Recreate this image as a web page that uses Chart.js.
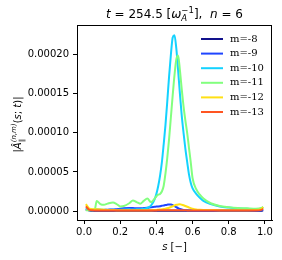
<!DOCTYPE html>
<html>
<head>
<meta charset="utf-8">
<script src="https://cdn.jsdelivr.net/npm/chart.js@4"></script>
<style>
  html, body { margin: 0; padding: 0; background: #fff; }
  canvas { display: block; }
</style>
</head>
<body>
<canvas id="modeChart" width="282" height="260"></canvas>
<script>
// radial coordinate s, shared by all modes
const sGrid = [0.01, 0.03, 0.05, 0.06, 0.07, 0.09, 0.11, 0.13, 0.16, 0.18,
  0.20, 0.22, 0.25, 0.27, 0.29, 0.31, 0.33, 0.35, 0.37, 0.39,
  0.40, 0.41, 0.42, 0.43, 0.44, 0.45, 0.46, 0.47, 0.48, 0.49,
  0.50, 0.51, 0.52, 0.53, 0.54, 0.55, 0.56, 0.57, 0.58, 0.59,
  0.60, 0.62, 0.64, 0.66, 0.70, 0.75, 0.80, 0.85, 0.90, 0.95,
  0.98, 0.99];

const modeLabels = ["m=-8", "m=-9", "m=-10", "m=-11", "m=-12", "m=-13"];

const m8 = [2e-6, 0.6e-6, 0.4e-6, 0.4e-6, 0.4e-6, 0.4e-6, 0.4e-6, 0.4e-6, 0.4e-6, 0.4e-6,
  0.4e-6, 0.4e-6, 0.4e-6, 0.4e-6, 0.4e-6, 0.4e-6, 0.4e-6, 0.4e-6, 0.4e-6, 0.4e-6,
  0.4e-6, 0.4e-6, 0.4e-6, 0.4e-6, 0.4e-6, 0.4e-6, 0.4e-6, 0.4e-6, 0.4e-6, 0.4e-6,
  0.4e-6, 0.4e-6, 0.4e-6, 0.4e-6, 0.4e-6, 0.4e-6, 0.4e-6, 0.4e-6, 0.4e-6, 0.4e-6,
  0.4e-6, 0.4e-6, 0.4e-6, 0.4e-6, 0.4e-6, 0.4e-6, 0.4e-6, 0.4e-6, 0.4e-6, 0.4e-6,
  0.5e-6, 1e-6];

const m9 = [3e-6, 1.5e-6, 1.2e-6, 1.2e-6, 1.2e-6, 1.3e-6, 1.5e-6, 1.8e-6, 2e-6, 2.5e-6,
  3e-6, 3.5e-6, 3.8e-6, 3.8e-6, 3.5e-6, 3.5e-6, 3.8e-6, 4.2e-6, 5e-6, 5.5e-6,
  5.8e-6, 6e-6, 6.3e-6, 6.8e-6, 7.2e-6, 7.8e-6, 8.2e-6, 8.5e-6, 8.3e-6, 7.5e-6,
  6.2e-6, 5e-6, 3.8e-6, 2.8e-6, 2e-6, 1.5e-6, 1.2e-6, 1e-6, 0.9e-6, 0.9e-6,
  0.8e-6, 0.8e-6, 0.8e-6, 0.8e-6, 0.8e-6, 0.8e-6, 0.8e-6, 0.8e-6, 0.8e-6, 0.8e-6,
  1e-6, 1.5e-6];

const m10 = [4e-6, 2e-6, 1.8e-6, 2e-6, 2.2e-6, 2e-6, 1.6e-6, 1.5e-6, 1.8e-6, 1.5e-6,
  1.8e-6, 2e-6, 2.2e-6, 2e-6, 2.3e-6, 2.5e-6, 3e-6, 4e-6, 7e-6, 15e-6,
  22e-6, 32e-6, 45e-6, 62e-6, 85e-6, 110e-6, 140e-6, 172e-6, 200e-6, 222e-6,
  225e-6, 208e-6, 180e-6, 150e-6, 122e-6, 100e-6, 80e-6, 63e-6, 47e-6, 36e-6,
  29e-6, 22e-6, 17e-6, 13e-6, 9e-6, 6e-6, 4.5e-6, 3.5e-6, 3e-6, 2.5e-6,
  3e-6, 5e-6];

const m11 = [1e-6, 1e-6, 1.2e-6, 2.5e-6, 13e-6, 9e-6, 8e-6, 9.5e-6, 11e-6, 9e-6,
  6e-6, 6.5e-6, 10e-6, 13.5e-6, 11.5e-6, 9.5e-6, 13e-6, 16e-6, 11.5e-6, 16e-6,
  19e-6, 21e-6, 22e-6, 25e-6, 32e-6, 48e-6, 68e-6, 92e-6, 120e-6, 148e-6,
  174e-6, 194e-6, 199e-6, 180e-6, 156e-6, 134e-6, 116e-6, 100e-6, 81e-6, 62e-6,
  42e-6, 28e-6, 21e-6, 16e-6, 10e-6, 6.5e-6, 5e-6, 4e-6, 3.5e-6, 3e-6,
  4e-6, 5.5e-6];

const m12 = [9e-6, 3e-6, 2.5e-6, 2.5e-6, 2.5e-6, 2e-6, 1.8e-6, 1.5e-6, 1.3e-6, 1.2e-6,
  1.2e-6, 1.2e-6, 1.2e-6, 1.2e-6, 1.2e-6, 1.2e-6, 1.2e-6, 1.2e-6, 1.2e-6, 1.3e-6,
  1.5e-6, 1.8e-6, 2e-6, 2.3e-6, 2.6e-6, 3e-6, 3.6e-6, 4.3e-6, 5.2e-6, 6.2e-6,
  7.2e-6, 8e-6, 8.5e-6, 8.6e-6, 8.2e-6, 7.5e-6, 6.5e-6, 5.5e-6, 4.6e-6, 3.8e-6,
  3e-6, 2e-6, 1.6e-6, 1.4e-6, 1.3e-6, 1.2e-6, 1.2e-6, 1.2e-6, 1.2e-6, 1.3e-6,
  2.5e-6, 5e-6];

const m13 = [6e-6, 1.5e-6, 1e-6, 0.8e-6, 0.8e-6, 0.8e-6, 0.8e-6, 0.8e-6, 0.8e-6, 0.8e-6,
  0.8e-6, 0.8e-6, 0.8e-6, 0.8e-6, 0.8e-6, 0.8e-6, 0.8e-6, 0.8e-6, 0.8e-6, 0.9e-6,
  0.9e-6, 1e-6, 1e-6, 1e-6, 1.1e-6, 1.1e-6, 1.2e-6, 1.2e-6, 1.2e-6, 1.2e-6,
  1.2e-6, 1.2e-6, 1.2e-6, 1.1e-6, 1.1e-6, 1e-6, 1e-6, 0.9e-6, 0.9e-6, 0.8e-6,
  0.8e-6, 0.8e-6, 0.8e-6, 0.8e-6, 0.8e-6, 0.8e-6, 0.8e-6, 0.8e-6, 0.8e-6, 0.8e-6,
  1.5e-6, 3e-6];

const xTicks = [0.0, 0.2, 0.4, 0.6, 0.8, 1.0];
const yTicks = [0, 0.00005, 0.00010, 0.00015, 0.00020];

const modeColors = ["#12128c", "#1f45ff", "#14d2ff", "#82ff7e", "#ffe014", "#ff5522"];

const SANS = "'DejaVu Sans', sans-serif";
const SERIF = "'DejaVu Serif', serif";

// draws a run of text pieces (for the math-like labels)
function drawRich(ctx, parts, x, y, align) {
    let w = 0;
    parts.forEach(p => {
        ctx.font = p.f;
        if (!p.stack) w += ctx.measureText(p.t).width;
    });
    let cx = align === "center" ? x - w / 2 : x;
    parts.forEach(p => {
        ctx.font = p.f;
        ctx.fillText(p.t, cx, y + (p.dy || 0));
        if (!p.stack) cx += ctx.measureText(p.t).width;
    });
}

const labelsPlugin = {
    id: "labels",
    afterDraw(chart) {
        const { ctx, chartArea } = chart;
        ctx.save();

        // frame
        ctx.strokeStyle = "#000";
        ctx.lineWidth = 1;
        ctx.strokeRect(chartArea.left + 0.5, chartArea.top + 0.5,
            chartArea.right - chartArea.left - 1, chartArea.bottom - chartArea.top);

        ctx.fillStyle = "#000";
        ctx.textBaseline = "alphabetic";
        ctx.textAlign = "left";

        // title
        const mid = (chartArea.left + chartArea.right) / 2;
        drawRich(ctx, [
            { t: "t", f: `italic 12px ${SANS}` },
            { t: " = 254.5 [", f: `12px ${SANS}` },
            { t: "ω", f: `italic 12px ${SANS}` },
            { t: "A", f: `italic 8.5px ${SANS}`, dy: 3, stack: true },
            { t: "−1", f: `8.5px ${SANS}`, dy: -5 },
            { t: "],  ", f: `12px ${SANS}` },
            { t: "n", f: `italic 12px ${SANS}` },
            { t: " = 6", f: `12px ${SANS}` }
        ], mid, 18, "center");

        // x label
        drawRich(ctx, [
            { t: "s", f: `italic 10px ${SANS}` },
            { t: " [−]", f: `10px ${SANS}` }
        ], mid, 250, "center");

        // y label
        ctx.save();
        ctx.translate(21, (chartArea.top + chartArea.bottom) / 2 + 2);
        ctx.rotate(-Math.PI / 2);
        drawRich(ctx, [
            { t: "|", f: `10px ${SANS}` },
            { t: "Â", f: `italic 10px ${SANS}` },
            { t: "∥", f: `7px ${SANS}`, dy: 2.5, stack: true },
            { t: "(n,m)", f: `italic 7px ${SANS}`, dy: -5 },
            { t: "(", f: `10px ${SANS}` },
            { t: "s", f: `italic 10px ${SANS}` },
            { t: "; ", f: `10px ${SANS}` },
            { t: "t", f: `italic 10px ${SANS}` },
            { t: ")|", f: `10px ${SANS}` }
        ], 0, 0, "center");
        ctx.restore();

        // legend
        ctx.font = `10px ${SERIF}`;
        ctx.textBaseline = "middle";
        chart.data.datasets.forEach((ds, i) => {
            const y = 39 + i * 14.6;
            ctx.strokeStyle = ds.borderColor;
            ctx.lineWidth = 2;
            ctx.beginPath();
            ctx.moveTo(201, y);
            ctx.lineTo(223, y);
            ctx.stroke();
            ctx.fillStyle = "#000";
            ctx.fillText(ds.label, 230, y);
        });

        ctx.restore();
    }
};

const series = [m8, m9, m10, m11, m12, m13];

new Chart(document.getElementById("modeChart"), {
    type: "line",
    data: {
        datasets: series.map((vals, i) => ({
            label: modeLabels[i],
            data: vals.map((v, k) => ({ x: sGrid[k], y: v })),
            borderColor: modeColors[i],
            borderWidth: 2,
            pointRadius: 0,
            cubicInterpolationMode: "monotone",
            order: series.length - i
        }))
    },
    options: {
        responsive: false,
        devicePixelRatio: 1,
        animation: false,
        layout: { padding: { left: 0, right: 10, top: 25, bottom: 0 } },
        plugins: {
            legend: { display: false },
            tooltip: { enabled: false }
        },
        scales: {
            x: {
                type: "linear",
                min: -0.039,
                max: 1.039,
                afterFit: scale => { scale.height = 40; },
                afterBuildTicks: scale => {
                    scale.ticks = xTicks.map(v => ({ value: v }));
                },
                ticks: {
                    color: "#000",
                    font: { family: SANS, size: 10 },
                    padding: 2,
                    maxRotation: 0,
                    callback: v => v.toFixed(1)
                },
                grid: { drawOnChartArea: false, drawTicks: true, tickLength: 4, color: "#000" },
                border: { display: true, color: "#000" }
            },
            y: {
                type: "linear",
                min: -0.0000114,
                max: 0.000238,
                afterFit: scale => { scale.width = 77; },
                afterBuildTicks: scale => {
                    scale.ticks = yTicks.map(v => ({ value: v }));
                },
                ticks: {
                    color: "#000",
                    font: { family: SANS, size: 10 },
                    padding: 4,
                    callback: v => v.toFixed(5)
                },
                grid: { drawOnChartArea: false, drawTicks: true, tickLength: 4, color: "#000" },
                border: { display: true, color: "#000" }
            }
        }
    },
    plugins: [labelsPlugin]
});
</script>
</body>
</html>
